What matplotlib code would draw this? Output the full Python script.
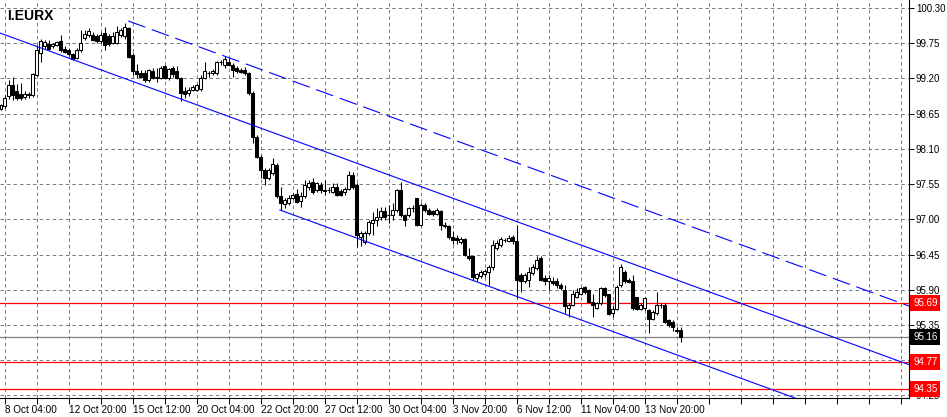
import matplotlib
matplotlib.use("Agg")
import matplotlib.pyplot as plt
import matplotlib.transforms as mtransforms
import numpy as np

plt.rcParams['lines.scale_dashes'] = False
plt.rcParams['font.family'] = ['Liberation Sans', 'DejaVu Sans']

# ---- data (H4 bars, I.EURX) ----
opens = [98.73, 98.77, 98.93, 99.10, 99.00, 98.96, 98.91, 98.95, 98.94, 99.26,
         99.60, 99.70, 99.74, 99.70, 99.73, 99.78, 99.66, 99.65, 99.58, 99.52,
         99.64, 99.83, 99.88, 99.88, 99.86, 99.78, 99.91, 99.86, 99.76, 99.76,
         99.88, 99.86, 99.98, 99.57, 99.31, 99.29, 99.28, 99.17, 99.31, 99.23,
         99.21, 99.39, 99.21, 99.36, 99.31, 99.21, 99.00, 98.98, 99.02, 99.02,
         99.04, 99.21, 99.29, 99.28, 99.28, 99.45, 99.41, 99.46, 99.41, 99.36,
         99.33, 99.33, 99.28, 98.97, 98.29, 97.98, 97.77, 97.64, 97.72, 97.85,
         97.36, 97.24, 97.25, 97.34, 97.39, 97.28, 97.36, 97.51, 97.59, 97.46,
         97.54, 97.46, 97.46, 97.43, 97.51, 97.44, 97.42, 97.48, 97.69, 97.54,
         96.73, 96.65, 96.78, 96.95, 96.99, 97.03, 97.13, 97.07, 97.07, 97.15,
         97.46, 97.07, 97.07, 97.17, 97.33, 96.91, 97.23, 97.15, 97.13, 97.08,
         97.13, 96.91, 96.89, 96.73, 96.71, 96.65, 96.70, 96.42, 96.42, 96.08,
         96.11, 96.14, 96.18, 96.25, 96.55, 96.60, 96.68, 96.66, 96.73, 96.66,
         96.13, 96.04, 96.05, 96.16, 96.24, 96.39, 96.08, 96.03, 96.04, 96.03,
         95.98, 95.90, 95.61, 95.66, 95.79, 95.84, 95.94, 95.89, 95.71, 95.62,
         95.69, 95.93, 95.83, 95.53, 95.60, 95.97, 96.18, 96.05, 96.03, 95.78,
         95.60, 95.61, 95.58, 95.45, 95.53, 95.66, 95.66, 95.43, 95.40, 95.25,
         95.27]
highs = [98.80, 98.94, 99.18, 99.22, 99.12, 99.13, 99.00, 98.99, 99.29, 99.70,
         99.82, 99.80, 99.80, 99.76, 99.79, 99.88, 99.70, 99.67, 99.60, 99.68,
         99.95, 99.95, 99.98, 99.92, 99.90, 99.92, 100.00, 99.90, 99.92, 100.02,
         99.99, 100.07, 100.00, 99.60, 99.42, 99.33, 99.33, 99.35, 99.37, 99.37,
         99.39, 99.41, 99.37, 99.40, 99.39, 99.23, 99.06, 99.06, 99.10, 99.12,
         99.25, 99.45, 99.32, 99.35, 99.47, 99.49, 99.55, 99.52, 99.44, 99.40,
         99.37, 99.38, 99.30, 99.00, 98.32, 98.00, 97.80, 97.80, 97.95, 97.88,
         97.51, 97.33, 97.38, 97.41, 97.48, 97.43, 97.62, 97.62, 97.64, 97.59,
         97.59, 97.62, 97.50, 97.56, 97.56, 97.48, 97.51, 97.76, 97.74, 97.56,
         96.81, 96.81, 96.99, 97.12, 97.17, 97.20, 97.20, 97.22, 97.25, 97.48,
         97.59, 97.09, 97.20, 97.22, 97.33, 97.25, 97.25, 97.17, 97.15, 97.17,
         97.15, 96.96, 96.91, 96.81, 96.76, 96.72, 96.71, 96.55, 96.42, 96.16,
         96.21, 96.23, 96.29, 96.68, 96.68, 96.73, 96.71, 96.75, 96.75, 96.91,
         96.16, 96.16, 96.26, 96.31, 96.42, 96.42, 96.13, 96.13, 96.10, 96.08,
         96.00, 95.97, 95.69, 95.90, 95.92, 95.95, 95.96, 95.91, 95.84, 95.71,
         95.95, 95.95, 95.84, 95.64, 95.97, 96.31, 96.21, 96.08, 96.13, 95.79,
         95.69, 95.78, 95.60, 95.59, 95.87, 95.70, 95.69, 95.45, 95.43, 95.32,
         95.32]
lows = [98.71, 98.74, 98.88, 98.87, 98.86, 98.86, 98.88, 98.90, 98.91, 99.24,
        99.46, 99.66, 99.64, 99.68, 99.70, 99.62, 99.60, 99.55, 99.49, 99.50,
        99.62, 99.80, 99.85, 99.78, 99.76, 99.75, 99.64, 99.70, 99.74, 99.74,
        99.84, 99.82, 99.52, 99.25, 99.21, 99.20, 99.14, 99.14, 99.19, 99.14,
        99.19, 99.19, 99.18, 99.22, 99.19, 98.85, 98.90, 98.93, 99.00, 99.00,
        99.00, 99.19, 99.23, 99.26, 99.26, 99.41, 99.37, 99.39, 99.23, 99.29,
        99.28, 99.26, 98.94, 98.19, 97.95, 97.65, 97.54, 97.62, 97.70, 97.33,
        97.15, 97.18, 97.22, 97.32, 97.25, 97.20, 97.33, 97.46, 97.40, 97.43,
        97.41, 97.38, 97.41, 97.41, 97.36, 97.36, 97.38, 97.46, 97.48, 96.57,
        96.58, 96.62, 96.76, 96.76, 96.89, 96.99, 96.99, 96.94, 96.99, 97.12,
        97.04, 96.89, 97.04, 97.12, 96.89, 96.89, 97.12, 97.06, 97.05, 97.07,
        96.83, 96.86, 96.70, 96.62, 96.62, 96.62, 96.42, 96.36, 96.05, 96.03,
        96.08, 96.10, 95.97, 96.21, 96.52, 96.57, 96.65, 96.64, 96.62, 95.77,
        95.87, 96.00, 95.95, 96.13, 96.21, 96.03, 95.97, 95.90, 95.97, 95.92,
        95.90, 95.53, 95.48, 95.64, 95.77, 95.82, 95.84, 95.69, 95.48, 95.60,
        95.66, 95.79, 95.51, 95.48, 95.58, 95.95, 96.00, 96.00, 95.58, 95.58,
        95.58, 95.58, 95.22, 95.43, 95.51, 95.62, 95.38, 95.32, 95.25, 95.22,
        95.08]
closes = [98.78, 98.90, 99.10, 98.94, 98.90, 98.90, 98.96, 98.94, 99.27, 99.64,
          99.79, 99.77, 99.66, 99.74, 99.77, 99.64, 99.62, 99.58, 99.51, 99.64,
          99.76, 99.90, 99.94, 99.80, 99.78, 99.88, 99.72, 99.74, 99.86, 99.93,
          99.95, 100.01, 99.54, 99.31, 99.27, 99.23, 99.17, 99.33, 99.21, 99.21,
          99.37, 99.21, 99.35, 99.27, 99.21, 98.98, 98.95, 99.02, 99.07, 99.09,
          99.21, 99.31, 99.28, 99.31, 99.45, 99.46, 99.50, 99.41, 99.33, 99.32,
          99.30, 99.28, 98.97, 98.29, 97.98, 97.77, 97.64, 97.77, 97.87, 97.36,
          97.25, 97.30, 97.34, 97.38, 97.27, 97.36, 97.54, 97.56, 97.43, 97.56,
          97.46, 97.44, 97.46, 97.51, 97.38, 97.38, 97.48, 97.69, 97.51, 96.76,
          96.78, 96.78, 96.96, 96.99, 97.04, 97.13, 97.03, 97.06, 97.14, 97.46,
          97.07, 96.99, 97.18, 97.17, 96.91, 97.22, 97.15, 97.09, 97.08, 97.15,
          96.91, 96.89, 96.73, 96.68, 96.68, 96.70, 96.44, 96.39, 96.10, 96.14,
          96.18, 96.19, 96.25, 96.60, 96.63, 96.70, 96.68, 96.71, 96.66, 96.05,
          96.04, 96.13, 96.18, 96.26, 96.36, 96.05, 96.03, 96.08, 96.00, 95.97,
          95.92, 95.64, 95.66, 95.84, 95.86, 95.92, 95.87, 95.71, 95.66, 95.69,
          95.92, 95.82, 95.52, 95.60, 95.95, 96.26, 96.03, 96.02, 95.61, 95.60,
          95.66, 95.77, 95.45, 95.56, 95.66, 95.66, 95.40, 95.35, 95.32, 95.27,
          95.16]

date_labels = ["8 Oct 04:00", "12 Oct 20:00", "15 Oct 12:00", "20 Oct 04:00",
               "22 Oct 20:00", "27 Oct 12:00", "30 Oct 04:00", "3 Nov 20:00",
               "6 Nov 12:00", "11 Nov 04:00", "13 Nov 20:00"]
price_ticks = [100.30, 99.75, 99.20, 98.65, 98.10, 97.55, 97.00, 96.45,
               95.90, 95.35, 94.80, 94.25]
hidden_tick_labels = [94.80]   # covered by the 94.77 marker in the chart
red_levels = [95.69, 94.77, 94.35]
bid_level = 95.16

# channel lines: (bar index, price) anchors
mid_line = [(-0.2, 99.91), (227.1, 94.73)]
upper_dashed = [(31.9, 100.097), (227.1, 95.646)]
lower_line = [(69.8, 97.146), (227.1, 93.56)]

# ---- figure ----
W, H = 947, 417
fig = plt.figure(figsize=(W / 100, H / 100), dpi=100)
fig.patch.set_facecolor('white')
ax = fig.add_axes([0, 19 / H, 909 / W, 398 / H])
ax.set_facecolor('white')

n = len(opens)
x = np.arange(n)
o = np.array(opens); c = np.array(closes)
hi = np.array(highs); lo = np.array(lows)
up = c >= o

ax.vlines(x, lo, hi, color='black', lw=0.75, zorder=3)
ax.bar(x, np.abs(c - o), bottom=np.minimum(o, c), width=0.6,
       color=np.where(up, 'white', 'black'), edgecolor='black',
       linewidth=0.75, zorder=4)

# horizontal levels
for lv in red_levels:
    ax.axhline(lv, color='#ff0000', lw=0.9, zorder=2, snap=True)
ax.axhline(bid_level, color='#808080', lw=0.9, zorder=2, snap=True)

# channel lines
ax.plot(*zip(*mid_line), color='#0000ff', lw=0.8, zorder=5)
ax.plot(*zip(*lower_line), color='#0000ff', lw=0.8, zorder=5)
ax.plot(*zip(*upper_dashed), color='#0000ff', lw=0.8, zorder=5,
        dashes=(13, 5))

ax.set_xlim(-0.175, 227.1)
ax.set_ylim(94.210, 100.425)

# grid / ticks
grid_x = np.arange(1, 227, 8)
labels = []
for j, gx in enumerate(grid_x):
    if j % 2 == 0 and j // 2 < len(date_labels):
        labels.append(date_labels[j // 2])
    else:
        labels.append('')
ax.set_xticks(grid_x, labels)
for lab in ax.get_xticklabels():
    lab.set_ha('left')
ax.tick_params(axis='x', direction='out', length=4, width=0.7, pad=1,
               labelsize=7.2, colors='black')

ax.yaxis.tick_right()
ax.set_yticks(price_ticks,
              ['' if p in hidden_tick_labels else f"{p:.2f}" for p in price_ticks])
ax.tick_params(axis='y', direction='out', length=3.5, width=0.7, pad=1.5,
               labelsize=7, colors='black')
ax.grid(True, color='#708090', lw=0.72, linestyle=(0, (2.5, 2.2)), zorder=1)
ax.set_axisbelow(True)

for s in ['top', 'left']:
    ax.spines[s].set_visible(False)
for s in ['right', 'bottom']:
    ax.spines[s].set_color('black')
    ax.spines[s].set_linewidth(0.8)

# price labels on axis
trans = mtransforms.blended_transform_factory(ax.transAxes, ax.transData)
for lv in red_levels:
    ax.text(1.0 + 4 / 909, lv, f"{lv:.2f}", transform=trans, color='white',
            fontsize=7, va='center', ha='left', zorder=10, clip_on=False,
            bbox=dict(boxstyle='square,pad=0.3', fc='#ff0000', ec='none'))
ax.text(1.0 + 4 / 909, bid_level, f"{bid_level:.2f}", transform=trans,
        color='white', fontsize=7, va='center', ha='left', zorder=10,
        clip_on=False,
        bbox=dict(boxstyle='square,pad=0.3', fc='black', ec='none'))

ax.text(7 / 909, 1 - 16 / 398, "I.EURX", transform=ax.transAxes,
        fontsize=10, fontweight='bold', va='center', ha='left', zorder=10)

fig.savefig("out.png", dpi=100, facecolor='white')
